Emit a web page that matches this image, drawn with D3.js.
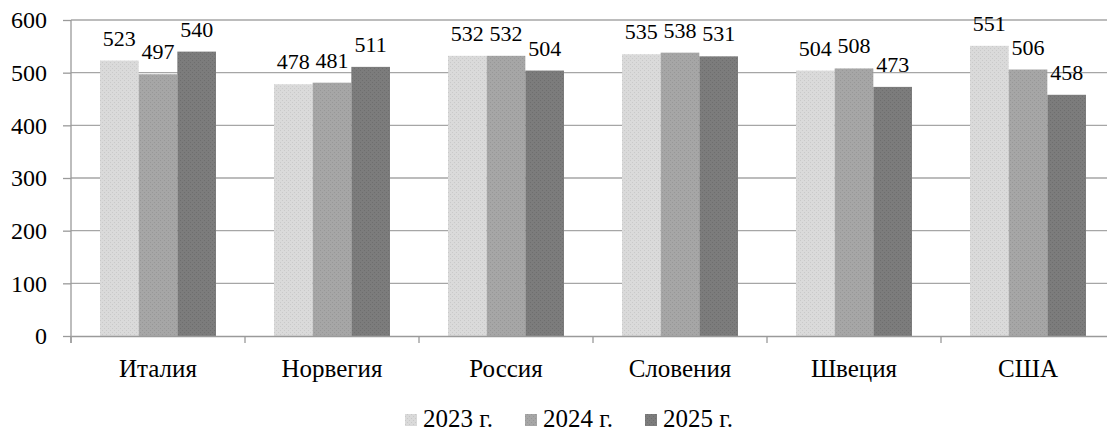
<!DOCTYPE html>
<html>
<head>
<meta charset="utf-8">
<script src="https://cdn.jsdelivr.net/npm/d3@7/dist/d3.min.js"></script>
<style>
  html, body { margin: 0; padding: 0; background: #fff; }
  svg { display: block; }
</style>
</head>
<body>
<svg id="chart" width="1107" height="434"></svg>
<script>
// Countries along the category axis
const categories = ["Италия", "Норвегия", "Россия", "Словения", "Швеция", "США"];
// One series per year
const seriesNames = ["2023 г.", "2024 г.", "2025 г."];
const values2023 = [523, 478, 532, 535, 504, 551];
const values2024 = [497, 481, 532, 538, 508, 506];
const values2025 = [540, 511, 504, 531, 473, 458];
const yTicks = [0, 100, 200, 300, 400, 500, 600];

(function () {
const FONT = "'Liberation Serif', 'Times New Roman', serif";
const seriesValues = [values2023, values2024, values2025];
const fills = ["#dadada", "#a6a6a6", "#7c7c7c"];
const dots  = ["#c9c9c9", "#979797", "#6e6e6e"];

const svg = d3.select("#chart").style("font-family", FONT);
const plotLeft = 71, plotTop = 20, plotBottom = 336;
const bandW = 174;
const plotRight = plotLeft + bandW * categories.length;

const defs = svg.append("defs");
fills.forEach((f, i) => {
  const p = defs.append("pattern")
    .attr("id", "tex" + i)
    .attr("patternUnits", "userSpaceOnUse")
    .attr("width", 4).attr("height", 4);
  p.append("rect").attr("width", 4).attr("height", 4).attr("fill", f);
  p.append("rect").attr("x", 0).attr("y", 0).attr("width", 1).attr("height", 1).attr("fill", dots[i]);
  p.append("rect").attr("x", 2).attr("y", 2).attr("width", 1).attr("height", 1).attr("fill", dots[i]);
});

const x = d3.scaleBand().domain(categories).range([plotLeft, plotRight]).paddingInner(0).paddingOuter(0);
const y = d3.scaleLinear().domain([0, 600]).range([plotBottom, plotTop]);

// Gridlines
svg.append("g")
  .selectAll("line")
  .data(yTicks.filter(d => d > 0))
  .join("line")
  .attr("x1", plotLeft).attr("x2", plotRight)
  .attr("y1", d => y(d)).attr("y2", d => y(d))
  .attr("stroke", "#a6a6a6").attr("stroke-width", 1.3);

// Bars
const groupW = 116;
const x1 = d3.scaleBand().domain(d3.range(seriesNames.length)).range([0, groupW]).padding(0);

const groups = svg.append("g").selectAll("g")
  .data(categories)
  .join("g")
  .attr("transform", d => `translate(${x(d) + (x.bandwidth() - groupW) / 2},0)`);

groups.selectAll("rect")
  .data((d, ci) => seriesValues.map((s, si) => ({ si, v: s[ci] })))
  .join("rect")
  .attr("x", d => x1(d.si))
  .attr("width", x1.bandwidth())
  .attr("y", d => y(d.v))
  .attr("height", d => y(0) - y(d.v))
  .attr("fill", d => `url(#tex${d.si})`);

groups.selectAll("text")
  .data((d, ci) => seriesValues.map((s, si) => ({ si, v: s[ci] })))
  .join("text")
  .attr("x", d => x1(d.si) + x1.bandwidth() / 2)
  .attr("y", d => y(d.v) - 15)
  .attr("text-anchor", "middle")
  .attr("fill", "#000")
  .style("font-family", FONT)
  .style("font-size", "22px")
  .text(d => d.v);

// Y axis
const yAxis = d3.axisLeft(y).tickValues(yTicks).tickSize(8).tickPadding(16);
const gy = svg.append("g").attr("transform", `translate(${plotLeft},0)`).call(yAxis)
  .attr("font-family", null).attr("font-size", null);
gy.select(".domain").attr("stroke", "#9a9a9a").attr("stroke-width", 1.3)
  .attr("d", `M0,${plotTop}V${plotBottom + 7}`);
gy.selectAll(".tick line").attr("stroke", "#9a9a9a").attr("stroke-width", 1.3);
gy.selectAll(".tick text").attr("fill", "#000")
  .style("font-family", FONT).style("font-size", "24px");

// X axis
const xAxis = d3.axisBottom(x).tickSize(0).tickPadding(23);
const gx = svg.append("g").attr("transform", `translate(0,${plotBottom})`).call(xAxis)
  .attr("font-family", null).attr("font-size", null);
gx.select(".domain").attr("stroke", "#9a9a9a").attr("stroke-width", 1.3);
gx.selectAll(".tick text").attr("fill", "#000")
  .style("font-family", FONT).style("font-size", "25px");
// Tick marks on category boundaries
svg.append("g").selectAll("line")
  .data(d3.range(categories.length + 1))
  .join("line")
  .attr("x1", i => plotLeft + i * x.step()).attr("x2", i => plotLeft + i * x.step())
  .attr("y1", plotBottom).attr("y2", plotBottom + 7)
  .attr("stroke", "#9a9a9a").attr("stroke-width", 1.3);

// Legend
const legendX = [405, 525, 645];
const legend = svg.append("g").selectAll("g")
  .data(seriesNames)
  .join("g")
  .attr("transform", (d, i) => `translate(${legendX[i]},0)`);
legend.append("rect")
  .attr("x", 0).attr("y", 414).attr("width", 12).attr("height", 12)
  .attr("fill", (d, i) => `url(#tex${i})`);
legend.append("text")
  .attr("x", 18).attr("y", 427)
  .attr("fill", "#000")
  .style("font-family", FONT)
  .style("font-size", "25px")
  .text(d => d);
})();
</script>
</body>
</html>
